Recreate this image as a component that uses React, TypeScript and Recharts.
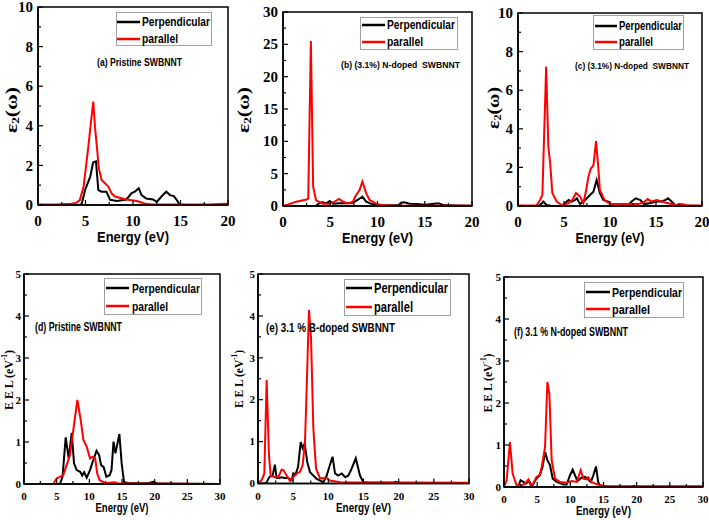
import React from 'react';
import { LineChart, Line, XAxis, YAxis, ReferenceArea, Legend } from 'recharts';

// ---------- data (energy in eV) ----------
const aPerpE = [0, 4.4, 4.6, 4.95, 5.5, 5.8, 6.1, 6.35, 6.7, 7.2, 7.6, 8.3, 9.3, 9.86, 10.2, 10.6, 10.9, 11.4, 12.1, 12.5, 13.0, 13.5, 13.9, 14.3, 14.6, 14.9, 15.5, 20];
const aPerpV = [0, 0, 0.05, 0.75, 1.43, 2.15, 2.2, 0.75, 0.67, 0.67, 0.26, 0.2, 0.28, 0.6, 0.67, 0.85, 0.5, 0.33, 0.28, 0.16, 0.43, 0.67, 0.5, 0.45, 0.26, 0.03, 0, 0];
const aParaE = [0, 2, 3.5, 4.0, 4.4, 4.8, 5.3, 5.6, 5.82, 6.0, 6.2, 6.4, 6.7, 7.4, 7.75, 8.1, 9.3, 10.4, 11.3, 12.0, 15.0, 18.0, 19.7, 20];
const aParaV = [0.03, 0.03, 0.06, 0.1, 0.25, 0.93, 2.95, 4.3, 5.22, 3.93, 2.95, 1.85, 1.26, 0.93, 0.59, 0.43, 0.28, 0.2, 0.06, 0.03, 0.02, 0.02, 0.06, 0.05];

const bPerpE = [0, 3.5, 3.9, 4.2, 4.6, 4.95, 5.3, 6.0, 6.7, 7.4, 7.9, 8.4, 8.8, 9.3, 9.86, 11, 12.2, 12.5, 12.8, 13.4, 14.1, 15.1, 16.2, 16.5, 17.1, 20];
const bPerpV = [0, 0.05, 0.5, 0.57, 0.41, 0.77, 0.36, 0.41, 0.41, 0.5, 0.93, 1.44, 0.67, 0.36, 0.15, 0.1, 0.1, 0.5, 0.57, 0.36, 0.3, 0.2, 0.4, 0.4, 0.1, 0.05];
const bParaE = [0, 0.5, 1.4, 2.5, 2.67, 2.95, 3.19, 3.5, 4.2, 4.95, 5.47, 5.93, 6.35, 6.88, 7.4, 7.68, 8.1, 8.4, 8.81, 9.16, 9.86, 10.6, 12, 20];
const bParaV = [0.05, 0.2, 0.67, 1.0, 1.15, 25.5, 2.98, 0.88, 0.36, 0.36, 0.67, 1.08, 0.67, 0.41, 0.67, 1.55, 2.47, 3.76, 1.96, 0.93, 0.36, 0.1, 0.05, 0.05];

const cPerpE = [0, 2.2, 2.6, 2.75, 3.1, 3.7, 4.75, 5.1, 5.5, 5.83, 6.2, 6.4, 6.74, 7.3, 7.83, 8.2, 8.55, 8.9, 9.27, 9.8, 10.2, 12.0, 12.35, 12.8, 13.3, 13.7, 14.3, 15.1, 15.6, 16.2, 16.3, 16.7, 17.1, 20];
const cPerpV = [0, 0, 0.14, 0.23, 0.05, 0, 0, 0.14, 0.31, 0.23, 0.31, 0.4, 0.1, 0.31, 0.57, 0.74, 1.35, 0.67, 0.31, 0.23, 0.05, 0.05, 0.23, 0.4, 0.31, 0.1, 0.14, 0.23, 0.23, 0.36, 0.4, 0.23, 0.03, 0];
const cParaE = [0, 2, 2.4, 2.65, 3.06, 3.3, 3.5, 3.73, 4.2, 4.75, 5.47, 5.9, 6.3, 6.74, 7.1, 7.35, 7.65, 7.9, 8.2, 8.48, 8.73, 8.9, 9.4, 10, 11.3, 13.1, 13.8, 14.1, 14.5, 15.1, 16, 17.1, 17.8, 18.5, 20];
const cParaV = [0.02, 0.02, 0.31, 0.57, 7.22, 3.07, 2.21, 0.67, 0.23, 0.05, 0.14, 0.31, 0.67, 0.5, 0.14, 0.67, 1.5, 1.93, 2.1, 3.36, 2.0, 0.83, 0.31, 0.1, 0.1, 0.1, 0.23, 0.36, 0.23, 0.31, 0.18, 0.05, 0.1, 0.02, 0.02];

const dPerpE = [0, 5.5, 5.9, 6.38, 6.84, 7.3, 7.66, 8.07, 8.6, 8.9, 9.2, 9.6, 10.1, 10.6, 11.1, 11.5, 11.8, 12.2, 12.6, 13.1, 13.4, 13.7, 14.0, 14.6, 14.95, 15.3, 16, 19, 19.8, 20.5, 30];
const dPerpV = [0, 0, 0.17, 1.11, 0.61, 1.22, 0.49, 0.33, 0.29, 0.2, 0.28, 0.15, 0.33, 0.57, 0.79, 0.69, 0.45, 0.4, 0.17, 0.21, 0.33, 1.01, 0.73, 1.19, 0.49, 0.05, 0.02, 0.02, 0.05, 0.01, 0];
const dParaE = [0, 4.5, 5.0, 5.5, 6.0, 6.53, 7.04, 7.55, 8.17, 8.68, 9.09, 9.6, 10.1, 10.5, 10.9, 11.2, 11.6, 12.4, 13.9, 14.5, 30];
const dParaV = [0, 0, 0.135, 0.17, 0.21, 0.45, 0.69, 1.29, 2.0, 1.52, 1.05, 0.89, 0.61, 0.65, 0.61, 0.25, 0.09, 0.02, 0.04, 0.01, 0];

const ePerpE = [0, 0.8, 1.2, 1.6, 2.08, 2.4, 2.65, 3.0, 3.36, 3.8, 4.3, 4.8, 5.02, 5.35, 5.7, 6.07, 6.35, 6.64, 7.0, 7.4, 8.35, 9.3, 9.77, 10.2, 10.6, 10.95, 11.4, 11.9, 12.4, 12.85, 13.3, 13.9, 14.5, 14.98, 16, 19.2, 19.6, 20, 30];
const ePerpV = [0, 0, 0.02, 0.15, 0.19, 0.45, 0.13, 0.13, 0.15, 0.13, 0.13, 0.08, 0.24, 0.22, 0.4, 0.99, 0.84, 0.96, 0.51, 0.27, 0.11, 0.03, 0.19, 0.43, 0.64, 0.24, 0.19, 0.24, 0.15, 0.19, 0.35, 0.6, 0.19, 0.03, 0.02, 0.02, 0.04, 0.02, 0.01];
const eParaE = [0, 0.52, 0.9, 1.23, 1.56, 1.8, 2.4, 2.88, 3.36, 3.6, 4.08, 4.55, 5.02, 5.5, 5.97, 6.35, 6.68, 6.92, 7.25, 7.54, 7.87, 8.25, 8.82, 9.4, 9.77, 10.2, 11.7, 30];
const eParaV = [0.01, 0.08, 0.24, 2.47, 0.68, 0.19, 0.15, 0.15, 0.33, 0.32, 0.19, 0.06, 0.15, 0.24, 0.28, 0.44, 0.99, 2.27, 4.14, 3.47, 1.31, 0.36, 0.12, 0.13, 0.13, 0.07, 0.03, 0.02];

const fPerpE = [0, 2.0, 2.2, 2.5, 2.9, 3.3, 3.8, 4.2, 4.9, 5.4, 5.8, 6.2, 6.54, 6.94, 7.34, 7.94, 8.95, 9.45, 9.95, 10.36, 10.7, 11.06, 11.7, 12.2, 12.7, 13.1, 13.47, 13.87, 14.2, 14.5, 19.2, 19.6, 20, 30];
const fPerpV = [0, 0, 0.04, 0.16, 0.12, 0.08, 0.14, 0.02, 0.2, 0.28, 0.47, 0.83, 0.64, 0.52, 0.2, 0.12, 0.06, 0.06, 0.28, 0.41, 0.28, 0.14, 0.22, 0.24, 0.18, 0.12, 0.28, 0.49, 0.12, 0.02, 0.01, 0.03, 0.01, 0.01];
const fParaE = [0, 0.4, 0.9, 1.3, 1.9, 2.67, 3.17, 3.67, 4.0, 4.4, 4.9, 5.4, 5.68, 6.19, 6.54, 6.84, 7.19, 7.7, 8.45, 9.45, 10.2, 10.96, 11.56, 11.97, 12.37, 12.7, 13.2, 13.7, 14.2, 14.7, 15.5, 30];
const fParaV = [0.01, 0.16, 1.07, 0.32, 0.04, 0.04, 0.08, 0.18, 0.04, 0.08, 0.24, 0.29, 0.47, 0.95, 2.5, 2.22, 0.63, 0.2, 0.12, 0.1, 0.14, 0.12, 0.4, 0.2, 0.18, 0.23, 0.12, 0.08, 0.06, 0.04, 0.02, 0.01];

// ---------- ticks & labels ----------
const eps20XTicks = [0, 2.5, 5, 7.5, 10, 12.5, 15, 17.5, 20];
const eps10YTicks = [0, 1, 2, 3, 4, 5, 6, 7, 8, 9, 10];
const eps30YTicks = [0, 2.5, 5, 7.5, 10, 12.5, 15, 17.5, 20, 22.5, 25, 27.5, 30];
const eel30XTicks = [0, 2.5, 5, 7.5, 10, 12.5, 15, 17.5, 20, 22.5, 25, 27.5, 30];
const eel5YTicks = [0, 0.5, 1, 1.5, 2, 2.5, 3, 3.5, 4, 4.5, 5];
const seriesNames = ['Perpendicular', 'parallel'];
const seriesColors = ['#000000', '#ff0000'];
const xTitle = 'Energy (eV)';
const panelNotes = [
  '(a) Pristine SWBNNT',
  '(b) (3.1%) N-doped  SWBNNT',
  '(c) (3.1%) N-doped  SWBNNT',
  '(d) Pristine SWBNNT',
  '(e) 3.1 % B-doped SWBNNT',
  '(f) 3.1 % N-doped SWBNNT',
];

const SERIF = "'Liberation Serif', 'Times New Roman', serif";
const NARROW = "'Liberation Sans', Arial, sans-serif";

const pts = (xs: number[], ys: number[]) => xs.map((x, i) => ({ x, y: ys[i] }));

type Box = { l: number; t: number; r: number; b: number };
type Cfg = {
  perp: { x: number; y: number }[];
  para: { x: number; y: number }[];
  xDomain: [number, number];
  yDomain: [number, number];
  xTicks: number[];
  yTicks: number[];
  xMajor: number;
  yMajor: number;
  chart: Box;
  plot: Box;
  tickFont: number;
  xLabDy: number;
  yLabGap: number;
  xTitleBase: number;
  xTitleSize: number;
  xTitleLen: number;
  yKind: 'eps' | 'eel';
  yTitleX: number;
  yTitleY: number;
  yTitleSize: number;
  yTitleLen: number;
  leg: { l: number; t: number; w: number; h: number; r1: number; r2: number; lx1: number; lx2: number; tx: number; font: number; len1: number; len2: number };
  note: { x: number; y: number; size: number; len: number };
};

const panels: Cfg[] = [
  {
    perp: pts(aPerpE, aPerpV), para: pts(aParaE, aParaV),
    xDomain: [0, 20], yDomain: [0, 10], xTicks: eps20XTicks, yTicks: eps10YTicks, xMajor: 5, yMajor: 2,
    chart: { l: 0, t: 0, r: 238, b: 252 }, plot: { l: 38, t: 7, r: 228, b: 205 },
    tickFont: 15, xLabDy: 21, yLabGap: 5,
    xTitleBase: 242, xTitleSize: 14.5, xTitleLen: 72,
    yKind: 'eps', yTitleX: 11, yTitleY: 110, yTitleSize: 17, yTitleLen: 46,
    leg: { l: 116, t: 12, w: 96, h: 34, r1: 10, r2: 27, lx1: 1, lx2: 24, tx: 26, font: 12, len1: 68, len2: 36 },
    note: { x: 139.5, y: 62, size: 10, len: 85 },
  },
  {
    perp: pts(bPerpE, bPerpV), para: pts(bParaE, bParaV),
    xDomain: [0, 20], yDomain: [0, 30], xTicks: eps20XTicks, yTicks: eps30YTicks, xMajor: 5, yMajor: 5,
    chart: { l: 231, t: 0, r: 482, b: 252 }, plot: { l: 283, t: 12, r: 472, b: 206 },
    tickFont: 15, xLabDy: 21, yLabGap: 5,
    xTitleBase: 242.5, xTitleSize: 14.5, xTitleLen: 71,
    yKind: 'eps', yTitleX: 243, yTitleY: 110, yTitleSize: 17, yTitleLen: 46,
    leg: { l: 360, t: 17, w: 98, h: 33, r1: 8, r2: 25, lx1: 2, lx2: 25, tx: 27, font: 12, len1: 68, len2: 36 },
    note: { x: 400.5, y: 65, size: 9.5, len: 119 },
  },
  {
    perp: pts(cPerpE, cPerpV), para: pts(cParaE, cParaV),
    xDomain: [0, 20], yDomain: [0, 10], xTicks: eps20XTicks, yTicks: eps10YTicks, xMajor: 5, yMajor: 2,
    chart: { l: 476, t: 0, r: 709, b: 252 }, plot: { l: 518, t: 13, r: 702, b: 206 },
    tickFont: 15, xLabDy: 21, yLabGap: 5,
    xTitleBase: 242.5, xTitleSize: 14.5, xTitleLen: 69,
    yKind: 'eps', yTitleX: 493, yTitleY: 108, yTitleSize: 17, yTitleLen: 42,
    leg: { l: 593, t: 15, w: 91, h: 35, r1: 11, r2: 27, lx1: 2, lx2: 24, tx: 26, font: 12, len1: 63, len2: 34 },
    note: { x: 632, y: 66, size: 9, len: 114 },
  },
  {
    perp: pts(dPerpE, dPerpV), para: pts(dParaE, dParaV),
    xDomain: [0, 30], yDomain: [0, 5], xTicks: eel30XTicks, yTicks: eel5YTicks, xMajor: 5, yMajor: 1,
    chart: { l: 0, t: 262, r: 228, b: 520 }, plot: { l: 24, t: 274, r: 220, b: 484 },
    tickFont: 11, xLabDy: 16, yLabGap: 3,
    xTitleBase: 512, xTitleSize: 12, xTitleLen: 53,
    yKind: 'eel', yTitleX: 8, yTitleY: 380, yTitleSize: 13, yTitleLen: 60,
    leg: { l: 104, t: 278, w: 98, h: 37, r1: 10, r2: 28, lx1: 2, lx2: 25, tx: 28, font: 13.5, len1: 68, len2: 36 },
    note: { x: 78.5, y: 327, size: 12, len: 87 },
  },
  {
    perp: pts(ePerpE, ePerpV), para: pts(eParaE, eParaV),
    xDomain: [0, 30], yDomain: [0, 5], xTicks: eel30XTicks, yTicks: eel5YTicks, xMajor: 5, yMajor: 1,
    chart: { l: 223, t: 262, r: 478, b: 520 }, plot: { l: 258, t: 274, r: 469, b: 483.5 },
    tickFont: 11, xLabDy: 16, yLabGap: 3,
    xTitleBase: 512, xTitleSize: 12, xTitleLen: 55,
    yKind: 'eel', yTitleX: 238, yTitleY: 379, yTitleSize: 13, yTitleLen: 58,
    leg: { l: 344, t: 279, w: 107, h: 37, r1: 9, r2: 28, lx1: 2, lx2: 28, tx: 30, font: 14.5, len1: 74, len2: 39 },
    note: { x: 330.5, y: 328, size: 12, len: 129 },
  },
  {
    perp: pts(fPerpE, fPerpV), para: pts(fParaE, fParaV),
    xDomain: [0, 30], yDomain: [0, 5], xTicks: eel30XTicks, yTicks: eel5YTicks, xMajor: 5, yMajor: 1,
    chart: { l: 473, t: 262, r: 709, b: 520 }, plot: { l: 504, t: 277, r: 703, b: 487 },
    tickFont: 11, xLabDy: 16, yLabGap: 3,
    xTitleBase: 515, xTitleSize: 12, xTitleLen: 55,
    yKind: 'eel', yTitleX: 487, yTitleY: 383, yTitleSize: 13, yTitleLen: 59,
    leg: { l: 584, t: 282, w: 100, h: 36, r1: 10, r2: 27, lx1: 2, lx2: 26, tx: 28, font: 13.5, len1: 70, len2: 38 },
    note: { x: 571, y: 332, size: 12, len: 114 },
  },
];

const isMajor = (v: number, step: number) => Math.abs(v / step - Math.round(v / step)) < 1e-6;

const makeXTick = (c: Cfg) => (p: any) => {
  const v = p.payload.value;
  const maj = isMajor(v, c.xMajor);
  return (
    <g>
      <line x1={p.x} x2={p.x} y1={p.y} y2={p.y - (maj ? 5 : 3)} stroke="#000" strokeWidth={1.2} />
      {maj && (
        <text x={p.x} y={p.y + c.xLabDy} textAnchor="middle" fontFamily={SERIF} fontWeight="bold" fontSize={c.tickFont} fill="#000">
          {String(v)}
        </text>
      )}
    </g>
  );
};

const makeYTick = (c: Cfg) => (p: any) => {
  const v = p.payload.value;
  const maj = isMajor(v, c.yMajor);
  return (
    <g>
      <line x1={p.x} x2={p.x + (maj ? 5 : 3)} y1={p.y} y2={p.y} stroke="#000" strokeWidth={1.2} />
      {maj && (
        <text x={p.x - c.yLabGap} y={p.y + c.tickFont * 0.34} textAnchor="end" fontFamily={SERIF} fontWeight="bold" fontSize={c.tickFont} fill="#000">
          {String(v)}
        </text>
      )}
    </g>
  );
};

const makeLegend = (c: Cfg) => (props: any) => {
  const items: any[] = props.payload || [];
  const L = c.leg;
  const rows = [L.r1, L.r2];
  const lens = [L.len1, L.len2];
  return (
    <svg width={L.w} height={L.h} style={{ display: 'block', overflow: 'visible' }}>
      <rect x={0.5} y={0.5} width={L.w - 1} height={L.h - 1} fill="#fff" stroke="#a0a0a0" strokeWidth={1} />
      {items.map((it, i) => (
        <g key={i}>
          <line x1={L.lx1} x2={L.lx2} y1={rows[i]} y2={rows[i]} stroke={it.color} strokeWidth={2.5} />
          <text
            x={L.tx}
            y={rows[i] + L.font * 0.36}
            fontFamily={NARROW}
            fontWeight="bold"
            fontSize={L.font}
            fill="#000"
            textLength={lens[i]}
            lengthAdjust="spacingAndGlyphs"
          >
            {it.value}
          </text>
        </g>
      ))}
    </svg>
  );
};

function Panel({ c }: { c: Cfg }) {
  const W = c.chart.r - c.chart.l;
  const H = c.chart.b - c.chart.t;
  const yW = c.plot.l - c.chart.l;
  const xH = c.chart.b - c.plot.b;
  const margin = { top: c.plot.t - c.chart.t, right: c.chart.r - c.plot.r, left: 0, bottom: 0 };
  const xtx = (c.plot.l + c.plot.r) / 2 - c.chart.l;
  const xty = c.xTitleBase - c.chart.t;
  const ytx = c.yTitleX - c.chart.l;
  const yty = c.yTitleY - c.chart.t;

  const xTitleContent = (p: any) => (
    <text
      x={xtx}
      y={xty}
      textAnchor="middle"
      fontFamily={NARROW}
      fontWeight="bold"
      fontSize={c.xTitleSize}
      fill="#000"
      textLength={c.xTitleLen}
      lengthAdjust="spacingAndGlyphs"
    >
      {p.value ?? xTitle}
    </text>
  );

  const yTitleContent = () =>
    c.yKind === 'eps' ? (
      <text
        x={ytx}
        y={yty}
        transform={`rotate(-90 ${ytx} ${yty})`}
        textAnchor="middle"
        dominantBaseline="central"
        fontFamily={SERIF}
        fontWeight="bold"
        fontSize={c.yTitleSize}
        fill="#000"
        textLength={c.yTitleLen}
        lengthAdjust="spacingAndGlyphs"
      >
        ε<tspan dy={4} fontSize={c.yTitleSize * 0.62}>2</tspan>
        <tspan dy={-4}>(ω)</tspan>
      </text>
    ) : (
      <text
        x={ytx}
        y={yty}
        transform={`rotate(-90 ${ytx} ${yty})`}
        textAnchor="middle"
        dominantBaseline="central"
        fontFamily={SERIF}
        fontWeight="bold"
        fontSize={c.yTitleSize}
        fill="#000"
        textLength={c.yTitleLen}
        lengthAdjust="spacingAndGlyphs"
      >
        E E L  (eV<tspan dy={-4} fontSize={c.yTitleSize * 0.62}>-1</tspan>
        <tspan dy={4}>)</tspan>
      </text>
    );

  return (
    <div style={{ position: 'absolute', left: c.chart.l, top: c.chart.t, width: W, height: H }}>
      <LineChart width={W} height={H} margin={margin}>
        <XAxis
          type="number"
          dataKey="x"
          domain={c.xDomain}
          ticks={c.xTicks}
          interval={0}
          allowDataOverflow
          height={xH}
          tickSize={0}
          tickMargin={0}
          tickLine={false}
          axisLine={{ stroke: '#000', strokeWidth: 1.5 }}
          tick={makeXTick(c)}
          label={{ value: xTitle, content: xTitleContent }}
        />
        <YAxis
          type="number"
          domain={c.yDomain}
          ticks={c.yTicks}
          interval={0}
          allowDataOverflow
          width={yW}
          tickSize={0}
          tickMargin={0}
          tickLine={false}
          axisLine={{ stroke: '#000', strokeWidth: 1.5 }}
          tick={makeYTick(c)}
          label={{ value: c.yKind, content: yTitleContent }}
        />
        <ReferenceArea
          x1={c.xDomain[0]}
          x2={c.xDomain[1]}
          y1={c.yDomain[0]}
          y2={c.yDomain[1]}
          fill="none"
          fillOpacity={0}
          stroke="#000"
          strokeWidth={1.5}
        />
        <Legend
          layout="vertical"
          align="center"
          verticalAlign="middle"
          width={c.leg.w}
          height={c.leg.h}
          wrapperStyle={{ left: c.leg.l - c.chart.l, top: c.leg.t - c.chart.t, width: c.leg.w, height: c.leg.h, margin: 0, padding: 0 }}
          content={makeLegend(c)}
        />
        <Line
          data={c.perp}
          dataKey="y"
          name={seriesNames[0]}
          type="linear"
          stroke={seriesColors[0]}
          strokeWidth={2}
          dot={false}
          activeDot={false}
          isAnimationActive={false}
        />
        <Line
          data={c.para}
          dataKey="y"
          name={seriesNames[1]}
          type="linear"
          stroke={seriesColors[1]}
          strokeWidth={2}
          dot={false}
          activeDot={false}
          isAnimationActive={false}
        />
      </LineChart>
    </div>
  );
}

export default function App() {
  return (
    <div style={{ position: 'absolute', left: 0, top: 0, width: 709, height: 520, background: '#fff', overflow: 'hidden' }}>
      {panels.map((c, i) => (
        <Panel key={i} c={c} />
      ))}
      <svg width={709} height={520} style={{ position: 'absolute', left: 0, top: 0, pointerEvents: 'none' }}>
        {panels.map((c, i) => (
          <text
            key={i}
            x={c.note.x}
            y={c.note.y + c.note.size * 0.36}
            textAnchor="middle"
            fontFamily={NARROW}
            fontWeight="bold"
            fontSize={c.note.size}
            fill="#000"
            textLength={c.note.len}
            lengthAdjust="spacingAndGlyphs"
            style={{ whiteSpace: 'pre' }}
          >
            {panelNotes[i]}
          </text>
        ))}
      </svg>
    </div>
  );
}
